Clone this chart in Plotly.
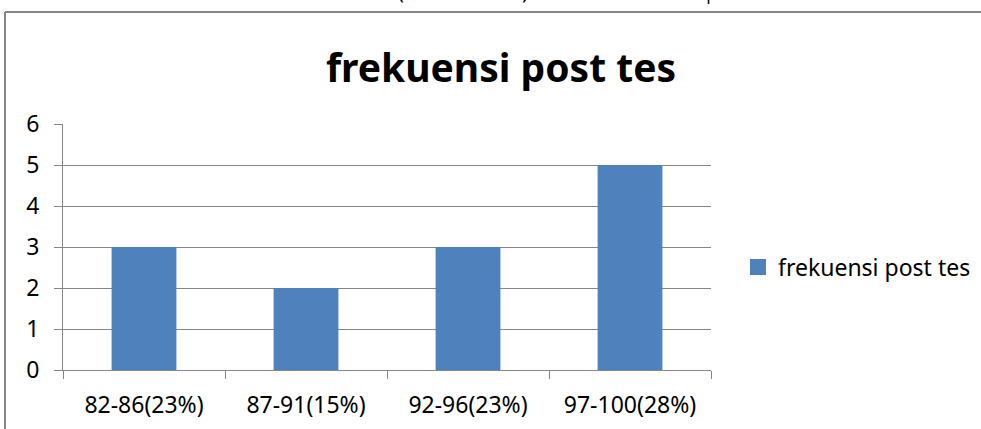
import plotly.graph_objects as go

categories = ["82-86(23%)", "87-91(15%)", "92-96(23%)", "97-100(28%)"]
values = [3, 2, 3, 5]
series_name = "frekuensi post tes"
title_text = "frekuensi post tes"
# cut-off fragments of the document text above the chart
top_fragments = ["(", ")", "|"]
top_fragment_px = [401, 525, 708]

W, H = 981, 429
L, R, T, B = 63, 270, 124, 59
pw = W - L - R
ph = H - T - B
bar_color = "#4F81BD"

def px_x(px):
    return (px - L) / pw

def px_y(py):
    return (H - B - py) / ph

fig = go.Figure()
fig.add_trace(go.Bar(
    x=categories, y=values, name=series_name,
    marker=dict(color=bar_color, line=dict(width=0)),
    showlegend=False, legendgroup="s1",
))
# legend entry (larger square symbol, as in the original chart)
fig.add_trace(go.Scatter(
    x=[None], y=[None], name=series_name, mode="markers", legendgroup="s1",
    marker=dict(symbol="square", size=16, color=bar_color), showlegend=True,
))

font_fam = "Noto Sans, Open Sans, sans-serif"
fig.update_layout(
    width=W, height=H,
    margin=dict(l=L, r=R, t=T, b=B, autoexpand=False),
    paper_bgcolor="white", plot_bgcolor="white",
    bargap=0.6,
    showlegend=True,
    font=dict(family=font_fam, size=23, color="black"),
    title=dict(text="<b>" + title_text + "</b>", x=px_x(501), xref="paper", xanchor="center",
               y=1 - 68 / H, yanchor="middle", font=dict(size=39, family=font_fam, color="black")),
    legend=dict(x=px_x(738), xanchor="left", y=px_y(267), yanchor="middle",
                font=dict(size=23, family=font_fam, color="black"),
                itemsizing="trace", bgcolor="rgba(0,0,0,0)"),
    xaxis=dict(showline=True, linecolor="#868686", linewidth=1, automargin=False,
               ticks="outside", tickson="boundaries", ticklen=8, tickcolor="#868686",
               showgrid=False, tickfont=dict(size=23), ticklabelstandoff=14),
    yaxis=dict(range=[0, 6], dtick=1, showline=True, linecolor="#868686", linewidth=1,
               automargin=False,
               ticks="outside", ticklen=8, tickcolor="#868686",
               showgrid=True, gridcolor="#868686", gridwidth=1, zeroline=False,
               tickfont=dict(size=23), ticklabelstandoff=10),
)

# outer frame (top and left borders)
fig.add_shape(type="line", xref="paper", yref="paper",
              x0=px_x(5), x1=px_x(990), y0=px_y(12), y1=px_y(12),
              line=dict(color="#868686", width=2))
fig.add_shape(type="line", xref="paper", yref="paper",
              x0=px_x(5), x1=px_x(5), y0=px_y(12), y1=px_y(440),
              line=dict(color="#868686", width=2))

for txt, xp in zip(top_fragments, top_fragment_px):
    fig.add_annotation(text=txt, xref="paper", yref="paper", x=px_x(xp), y=px_y(6),
                       xanchor="center", yanchor="bottom", showarrow=False,
                       font=dict(size=20, family=font_fam, color="black"), borderpad=0)

fig.write_html("out.html", config={"displayModeBar": False},
               post_script="document.body.style.margin='0';document.body.style.overflow='hidden';")
